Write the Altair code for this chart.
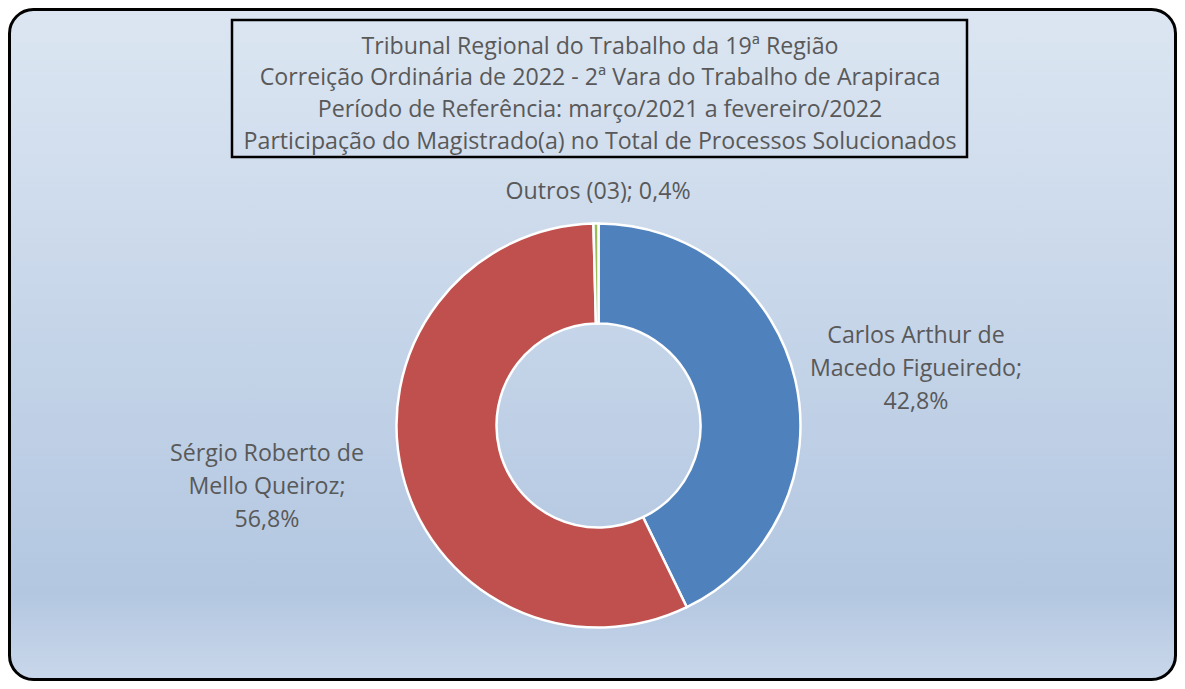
import math
import altair as alt
import pandas as pd

# ---- data ----
names = ["Carlos Arthur de Macedo Figueiredo", "Sérgio Roberto de Mello Queiroz", "Outros (03)"]
shares = [42.8, 56.8, 0.4]
label_texts = [
    "Carlos Arthur de\nMacedo Figueiredo;\n42,8%",
    "Sérgio Roberto de\nMello Queiroz;\n56,8%",
    "Outros (03); 0,4%",
]
colors = ["#4f81bd", "#c0504d", "#9bbb59"]
title_lines = [
    "Tribunal Regional do Trabalho da 19ª Região",
    "Correição Ordinária de 2022 - 2ª Vara do Trabalho de Arapiraca",
    "Período de Referência:  março/2021 a fevereiro/2022",
    "Participação do Magistrado(a) no Total de Processos Solucionados",
]

W, H = 1169, 673
CX, CY = 590.5, 417.5
FONT = "Open Sans"
FS = 23.2
TXT = "#595959"

df = pd.DataFrame({"name": names, "share": shares, "label": label_texts, "ord": [0, 1, 2]})
one = pd.DataFrame({"k": [0]})

bg = alt.Chart(one).mark_rect(
    cornerRadius=24,
    stroke="black",
    strokeWidth=3,
    color=alt.Gradient(
        gradient="linear",
        x1=0, x2=0, y1=0, y2=1,
        stops=[
            alt.GradientStop(offset=0, color="#dce6f2"),
            alt.GradientStop(offset=0.87, color="#b3c7e1"),
            alt.GradientStop(offset=1, color="#c9d7ea"),
        ],
    ),
).encode(x=alt.value(1.5), x2=alt.value(W - 1.5), y=alt.value(1.5), y2=alt.value(H - 1.5))

title_box = alt.Chart(one).mark_rect(
    fill="transparent", stroke="black", strokeWidth=2.5
).encode(x=alt.value(224), x2=alt.value(959), y=alt.value(12), y2=alt.value(149))

title_text = alt.Chart(one).mark_text(
    text=title_lines, font=FONT, fontSize=FS, color=TXT, align="center",
    baseline="middle", lineHeight=31.7
).encode(x=alt.value(592), y=alt.value(38.5))

donut = alt.Chart(df).mark_arc(
    innerRadius=102, outerRadius=202, stroke="white", strokeWidth=2.5
).encode(
    theta=alt.Theta("share:Q", stack=True),
    color=alt.Color("name:N", scale=alt.Scale(domain=names, range=colors), legend=None),
    order=alt.Order("ord:Q"),
    x=alt.value(CX),
    y=alt.value(CY),
)

base_lbl = alt.Chart(df).transform_window(
    cum="sum(share)", sort=[alt.SortField("ord")], frame=[None, 0]
).transform_calculate(mid="datum.cum - datum.share / 2")


def label_layer(idx, r, dx, dy):
    return base_lbl.transform_filter(alt.datum.ord == idx).mark_text(
        font=FONT, fontSize=FS, color=TXT, align="center", baseline="middle",
        lineBreak="\n", lineHeight=33, dx=dx, dy=dy
    ).encode(
        theta=alt.Theta("mid:Q", scale=alt.Scale(domain=[0, 100], range=[0, 2 * math.pi])),
        radius=alt.value(r),
        text="label:N",
        x=alt.value(CX),
        y=alt.value(CY),
    )


labels = [label_layer(0, 325.8, 0, -16), label_layer(1, 341.2, 0, -52), label_layer(2, 235.5, 2.5, 1.5)]

chart = alt.layer(bg, title_box, title_text, donut, *labels).properties(
    width=W, height=H, autosize=alt.AutoSizeParams(type="none"), padding=0,
    background="white"
).configure_view(stroke=None)

chart.save("out.html", embed_options={"renderer": "svg", "actions": False})
